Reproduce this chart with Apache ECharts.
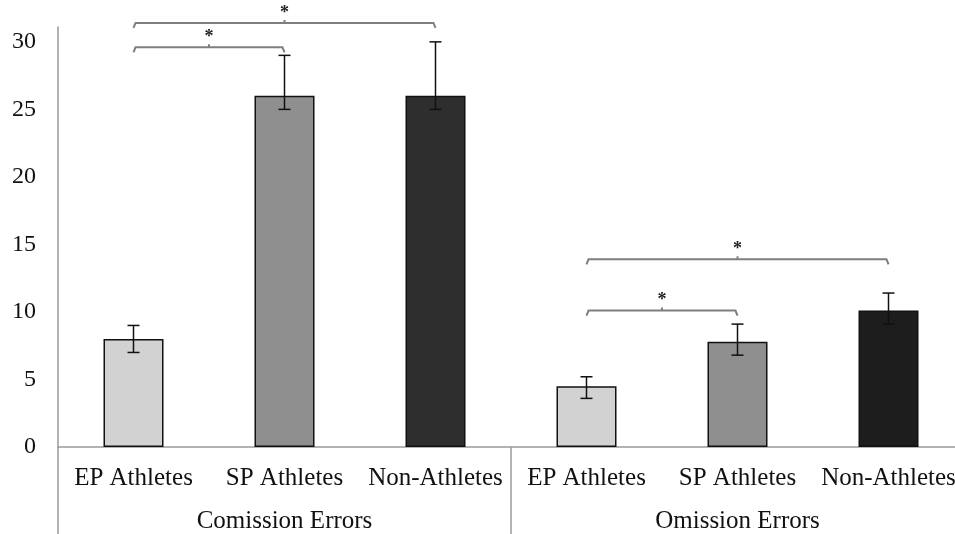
<!DOCTYPE html>
<html><head><meta charset="utf-8">
<script src="https://cdn.jsdelivr.net/npm/echarts@6/dist/echarts.min.js"></script>
<style>html,body{margin:0;padding:0;background:#fff;overflow:hidden}#c{width:964px;height:534px}</style>
</head><body><div id="c"></div>
<script>
const categories = ['EP Athletes','SP Athletes','Non-Athletes','EP Athletes','SP Athletes','Non-Athletes'];
const groups = ['Comission Errors','Omission Errors'];
const means = [8, 26, 26, 4.5, 7.8, 10.1];
const errLow = [7, 25, 25, 3.6, 6.8, 9.1];
const errHigh = [9, 29, 30, 5.2, 9.1, 11.4];
const yTicks = [0, 5, 10, 15, 20, 25, 30];
const bracketStart = [0, 0, 3, 3];
const bracketEnd = [1, 2, 4, 5];
const bracketHeight = [29.6, 31.4, 10.1, 13.9];
const bracketLabel = ['*', '*', '*', '*'];

const barColors = ['#d2d2d2', '#8f8f8f', '#2e2e2e', '#d2d2d2', '#8f8f8f', '#1d1d1d'];
const font = 'Liberation Serif';

const chart = echarts.init(document.getElementById('c'));
chart.setOption({
  animation: false,
  backgroundColor: '#fff',
  grid: { left: 58, top: 27, right: 0, bottom: 87, containLabel: false },
  xAxis: [{
    type: 'category', data: categories, position: 'bottom',
    axisLine: { show: true, lineStyle: { color: '#9a9a9a', width: 1.5 } },
    axisTick: { show: false },
    axisLabel: { interval: 0, margin: 19, fontFamily: font, fontSize: 25, color: '#111' }
  }, {
    type: 'category', data: groups, position: 'bottom', gridIndex: 0,
    axisLine: { show: false },
    axisTick: { show: true, length: 90, lineStyle: { color: '#9a9a9a', width: 1.5 } },
    axisLabel: { interval: 0, margin: 62, fontFamily: font, fontSize: 25, color: '#111' }
  }],
  yAxis: {
    type: 'value', min: 0, max: 31.1, interval: 5,
    axisLine: { show: true, lineStyle: { color: '#9a9a9a', width: 1.5 } },
    axisTick: { show: false },
    splitLine: { show: false },
    axisLabel: {
      showMaxLabel: false, margin: 22, fontFamily: font, fontSize: 24, color: '#111',
      formatter: v => (yTicks.indexOf(v) >= 0 ? String(v) : '')
    }
  },
  series: [{
    type: 'bar', barWidth: 60,
    data: means.map((v, i) => ({ value: v, itemStyle: { color: barColors[i], borderColor: '#111', borderWidth: 1.5 } }))
  }, {
    type: 'custom',
    data: means.map((v, i) => [i, errLow[i], errHigh[i]]),
    renderItem: (params, api) => {
      const lo = api.coord([api.value(0), api.value(1)]);
      const hi = api.coord([api.value(0), api.value(2)]);
      const s = { stroke: '#111', lineWidth: 1.5 };
      return { type: 'group', children: [
        { type: 'line', shape: { x1: lo[0], y1: lo[1], x2: hi[0], y2: hi[1] }, style: s },
        { type: 'line', shape: { x1: lo[0] - 6, y1: lo[1], x2: lo[0] + 6, y2: lo[1] }, style: s },
        { type: 'line', shape: { x1: hi[0] - 6, y1: hi[1], x2: hi[0] + 6, y2: hi[1] }, style: s }
      ]};
    },
    z: 5
  }, {
    type: 'custom', clip: false,
    data: bracketStart.map((s, i) => [s, bracketEnd[i], bracketHeight[i]]),
    renderItem: (params, api) => {
      const a = api.coord([api.value(0), api.value(2)]);
      const b = api.coord([api.value(1), api.value(2)]);
      const mx = (a[0] + b[0]) / 2, y = a[1];
      const s = { stroke: '#7f7f7f', lineWidth: 2, fill: null };
      return { type: 'group', children: [
        { type: 'polyline', shape: { points: [[a[0], y + 5], [a[0] + 2, y], [b[0] - 2, y], [b[0], y + 5]] }, style: s },
        { type: 'line', shape: { x1: mx, y1: y, x2: mx, y2: y - 3 }, style: s },
        { type: 'text', x: mx, y: y - 1, style: { text: bracketLabel[params.dataIndex], fontFamily: font, fontSize: 18, fontWeight: 'bold', fill: '#222', align: 'center', verticalAlign: 'bottom' } }
      ]};
    },
    z: 6
  }]
});
</script></body></html>
